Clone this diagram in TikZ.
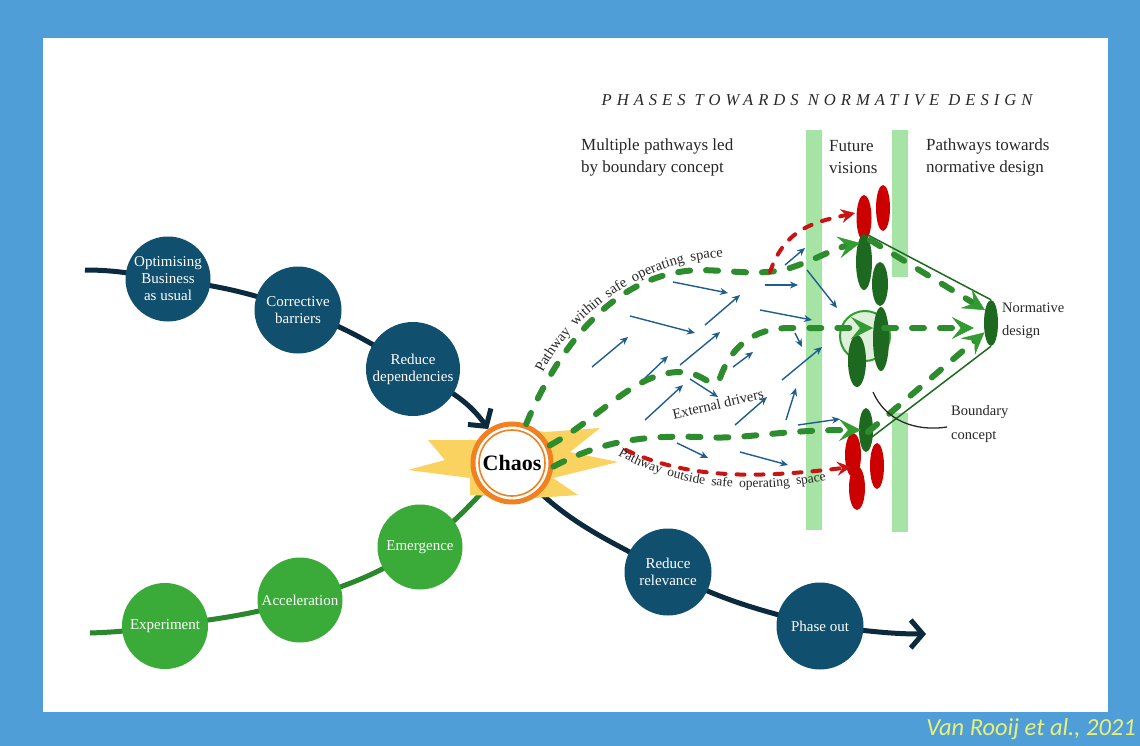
\documentclass[tikz,border=0pt]{standalone}
\usepackage{fontspec}
\setmainfont{Liberation Serif}
\newfontfamily\titlefont[LetterSpace=30]{Liberation Serif}
\newfontfamily\citefont{Carlito}
\usepackage{tikz}
\usetikzlibrary{arrows.meta,shapes.geometric,decorations.text}
\pgfdeclarelayer{frame}
\pgfdeclarelayer{trendlayer}
\pgfsetlayers{frame,trendlayer,main}
\definecolor{framebg}{RGB}{80,158,216}
\definecolor{navyfill}{RGB}{16,79,110}
\definecolor{navyline}{RGB}{12,42,62}
\definecolor{sproutfill}{RGB}{58,170,56}
\definecolor{sproutline}{RGB}{42,135,44}
\definecolor{waygreen}{RGB}{45,140,45}
\definecolor{tipgreen}{RGB}{50,155,50}
\definecolor{darkleaf}{RGB}{30,105,32}
\definecolor{wayred}{RGB}{200,20,20}
\definecolor{leafred}{RGB}{205,0,0}
\definecolor{barfill}{RGB}{165,228,165}
\definecolor{driverblue}{RGB}{31,94,140}
\definecolor{chaosring}{RGB}{240,128,32}
\definecolor{starfill}{RGB}{249,210,95}
\definecolor{citeyellow}{RGB}{232,240,122}
\definecolor{inktext}{RGB}{40,40,40}
\definecolor{paleleaf}{RGB}{222,240,218}
\tikzset{stage/.style = {shape = circle, fill = navyfill, text = white, minimum size = 86pt, inner sep = 0pt, align = center, font = \fontsize{15}{17}\selectfont}}
\tikzset{sprout/.style = {stage, fill = sproutfill}}
\tikzset{trend/.style = {line width = 5pt, draw = navyline}}
\tikzset{growth/.style = {line width = 5pt, draw = sproutline}}
\tikzset{greenway/.style = {draw = waygreen, line width = 6pt, line cap = round, dash pattern = on 12pt off 16pt, -{Stealth[length = 22pt, width = 22pt, inset = 9pt, line width = 0.5pt, color = tipgreen]}}}
\tikzset{redway/.style = {draw = wayred, line width = 4pt, line cap = round, dash pattern = on 8pt off 11pt, -{Stealth[length = 14pt, width = 14pt, inset = 5pt, line width = 0.5pt]}}}
\tikzset{driver/.style = {draw = driverblue, line width = 1.4pt, -{Stealth[length = 8pt, width = 7pt]}}}
\tikzset{textnote/.style = {inner sep = 0pt, anchor = west, align = left, text = inktext, font = \fontsize{17}{22}\selectfont}}
\tikzset{smallnote/.style = {textnote, font = \fontsize{14.5}{23}\selectfont}}
\tikzset{chevron/.style = {-{Straight Barb[length = 12pt, width = 28pt, line width = 5pt]}}}

\begin{document}
\begin{tikzpicture}[x = 1pt, y = -1pt]
	\useasboundingbox (0,0) rectangle (1140,746);
	\begin{pgfonlayer}{frame}
		\fill[framebg] (0,0) rectangle (1140,746);
		\fill[white] (43,38) rectangle (1108,712);
	\end{pgfonlayer}

	% phase bars
	\fill[barfill] (806,130) rectangle (822,530);
	\fill[barfill] (892,130) rectangle (908,277);
	\fill[barfill] (892,413) rectangle (908,532);

	\node[inner sep = 0pt, text = inktext, font = \titlefont\itshape\fontsize{16.6}{16.6}\selectfont] (title) at (817,100) {PHASES TOWARDS NORMATIVE DESIGN};
	\node[textnote] (multi) at (581,157) {Multiple pathways led\\by boundary concept};
	\node[textnote] (future) at (829,157) {Future\\visions};
	\node[textnote] (towards) at (926,157) {Pathways towards\\normative design};

	% external drivers
	\foreach \sx/\sy/\ex/\ey [count = \i] in {673/282/728/293, 705/325/740/295, 765/285/798/285, 785/265/805/248, 630/316/695/333, 592/367/628/337, 760/310/812/320, 643/380/668/356, 680/365/720/332, 690/379/718/397, 733/367/753/352, 795/333/802/347, 782/380/822/347, 645/420/683/385, 735/425/767/397, 786/420/796/388, 798/425/840/419, 677/443/708/458, 740/452/788/465, 807/270/837/308}
	{
		\coordinate (ds\i) at (\sx,\sy);
		\coordinate (de\i) at (\ex,\ey);
		\draw[driver] (ds\i) -- (de\i);
	}
	\node[rotate = 13, inner sep = 0pt, text = inktext, font = \fontsize{14.5}{14.5}\selectfont] (drivers) at (718,404) {External drivers};

	% future visions
	\fill[leafred] (864,218) ellipse [x radius = 7.5, y radius = 23];
	\fill[leafred] (883,208) ellipse [x radius = 7, y radius = 23];
	\fill[darkleaf] (864,262) ellipse [x radius = 8, y radius = 28];
	\fill[darkleaf] (880,284) ellipse [x radius = 8, y radius = 22];
	\filldraw[fill = paleleaf, draw = tipgreen, line width = 2pt] (865,336) circle [radius = 25];
	\fill[darkleaf] (881,339) ellipse [x radius = 8, y radius = 32];
	\fill[darkleaf] (857,361) ellipse [x radius = 9, y radius = 26];
	\fill[darkleaf] (866,430) ellipse [x radius = 7, y radius = 22];
	\fill[leafred] (853,455) ellipse [x radius = 8, y radius = 22];
	\fill[leafred] (857,488) ellipse [x radius = 8, y radius = 22];
	\fill[leafred] (877,466) ellipse [x radius = 7, y radius = 23];
	\node[ellipse, fill = darkleaf, minimum width = 14pt, minimum height = 46pt, inner sep = 0pt] (norm) at (991,323) {};
	\node[smallnote] (normtext) at (1002,321) {Normative\\design};

	% chaos
	\fill[starfill] (428,440) -- (478,440) -- (500,425) -- (545,432) -- (600,428) -- (570,452) -- (618,462) -- (553,478) -- (578,495) -- (535,498) -- (470,495) -- (470,478) -- (408,470) -- (445,460) -- cycle;
	\node[circle, fill = white, draw = chaosring, line width = 5pt, minimum size = 78pt, inner sep = 0pt, font = \bfseries\fontsize{22}{22}\selectfont] (chaos) at (512,463) {Chaos};
	\draw[chaosring, line width = 1.6pt] (chaos.center) circle [radius = 33];

	% stages
	\node[stage, minimum size = 85pt] (opt) at (168,279) {Optimising\\Business\\as usual};
	\node[stage, minimum size = 87pt] (corr) at (298,310) {Corrective\\barriers};
	\node[stage, minimum size = 94pt] (redep) at (413,369) {Reduce\\dependencies};
	\node[stage, minimum size = 87pt] (relev) at (668,572) {Reduce\\relevance};
	\node[stage, minimum size = 87pt] (phase) at (820,626) {Phase out};
	\node[sprout, minimum size = 85pt] (emerg) at (420,547) {Emergence};
	\node[sprout, minimum size = 85pt] (accel) at (300,600) {Acceleration};
	\node[sprout, minimum size = 86pt] (expt) at (165,626) {Experiment};

	\coordinate (navyin) at (85,270);
	\coordinate (navyout) at (926,634);
	\coordinate (greenin) at (90,633);
	\begin{pgfonlayer}{trendlayer}
		\draw[trend, chevron] (navyin) to[out = 0, in = 172] (opt.center) to[out = -8, in = 160] (corr.center) to[out = -20, in = 148] (redep.center) to[out = -32, in = 125] (chaos);
		\draw[trend, chevron] (chaos.center) to[out = -50, in = 152] (relev.center) to[out = -28, in = 165] (phase.center) to[out = -5, in = 180] (navyout);
		\draw[growth] (greenin) to[out = 2, in = 188] (expt.center) to[out = 8, in = 197] (accel.center) to[out = 17, in = 213] (emerg.center) to[out = 33, in = 222] (chaos.center);
	\end{pgfonlayer}

	% pathways
	\coordinate (fvtop) at (860,243);
	\coordinate (fvmid) at (873,328);
	\coordinate (fvlow) at (861,430);
	\coordinate (fork) at (770,272);
	\coordinate (redtop) at (855,213);
	\coordinate (redfork) at (626,450);
	\coordinate (redlow) at (851,467);
	\draw[greenway] (chaos.70) .. controls (555,355) and (610,272) .. (700,270) .. controls (740,271) and (760,276) .. (790,268) .. controls (815,260) and (835,248) .. (fvtop);
	\draw[greenway] (chaos.25) .. controls (600,418) and (635,372) .. (680,372) .. controls (705,372) and (712,392) .. (720,378) .. controls (730,350) and (750,328) .. (790,328) -- (fvmid);
	\draw[greenway] (chaos.-5) .. controls (600,442) and (640,435) .. (700,437) .. controls (745,440) and (775,430) .. (fvlow);
	\draw[redway] (fork) .. controls (785,228) and (815,222) .. (redtop);
	\draw[redway] (redfork) .. controls (690,480) and (760,478) .. (redlow);

	\coordinate (topleaf) at (870,240);
	\coordinate (midleaf) at (884,328);
	\coordinate (lowleaf) at (868,432);
	\coordinate (topthin) at (868,235);
	\coordinate (lowthin) at (872,437);
	\draw[darkleaf, line width = 1.5pt] (topthin) -- (norm.north);
	\draw[darkleaf, line width = 1.5pt] (lowthin) -- (norm.south);
	\draw[greenway] (topleaf) -- (norm.115);
	\draw[greenway] (midleaf) -- ([xshift = -10pt] norm.west |- midleaf);
	\draw[greenway] (lowleaf) -- (norm.235);

	% boundary concept
	\coordinate (bnda) at (873,392);
	\coordinate (bndb) at (947,427);
	\draw[inktext, line width = 1.3pt] (bnda) .. controls (885,420) and (915,432) .. (bndb);
	\node[smallnote, font = \fontsize{14.5}{24}\selectfont] (bndtext) at (951,424) {Boundary\\concept};

	% path labels
	\coordinate (pwa) at (543,373);
	\coordinate (pwb) at (723,257);
	\coordinate (pxa) at (618,455);
	\coordinate (pxb) at (826,480);
	\path[decorate, decoration = {text along path, text = {|\fontsize{14.5}{14.5}\selectfont|Pathway within safe operating space}, text align = {fit to path stretching spaces}, text color = inktext}] (pwa) .. controls (568,322) and (634,262) .. (pwb);
	\path[decorate, decoration = {text along path, text = {|\fontsize{13.5}{13.5}\selectfont|Pathway outside safe operating space}, text align = {fit to path stretching spaces}, text color = inktext}] (pxa) .. controls (670,485) and (740,497) .. (pxb);

	\node[anchor = east, inner sep = 0pt, text = citeyellow, font = \citefont\itshape\fontsize{24.5}{24.5}\selectfont] (cite) at (1136,729) {Van Rooij et al., 2021};
\end{tikzpicture}
\end{document}
